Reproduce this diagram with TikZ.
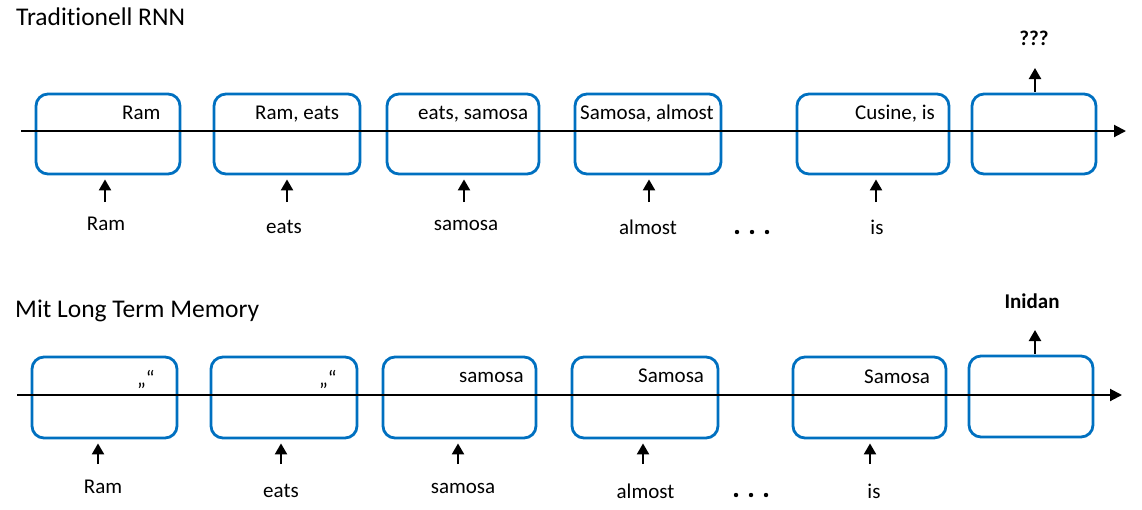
\documentclass[tikz,border=0pt]{standalone}
\usepackage{fontspec}
\setmainfont{Carlito}[Ligatures=NoCommon]
\usetikzlibrary{arrows.meta}
\definecolor{boxblue}{HTML}{0070C0}
\begin{document}
\begin{tikzpicture}[x=1pt,y=-1pt,
  cell/.style={draw=boxblue, line width=2.8pt, rounded corners=12pt, inner sep=0pt, minimum height=80pt},
  txt/.style={font=\fontsize{21}{25}\selectfont, inner sep=0pt, anchor=base},
  intxt/.style={txt, anchor=base west},
  ttl/.style={font=\fontsize{25.5}{30}\selectfont, inner sep=0pt, anchor=base west},
  outtxt/.style={txt, font=\fontsize{21}{25}\selectfont\bfseries},
  axis/.style={line width=2pt, -{Triangle[width=12pt,length=12pt]}},
  inarr/.style={line width=2.2pt, -{Triangle[width=12pt,length=11pt]}},
  dot/.style={fill=black}
]
\useasboundingbox (0,0) rectangle (1142,509);

% ---------- Titles ----------
\node[ttl] (title1) at (16,25) {Traditionell RNN};
\node[ttl] (title2) at (15,317) {Mit Long Term Memory};

% ---------- Top row ----------
\coordinate (ta) at (21,131);
\coordinate (tb) at (1126,131);
\node[cell, minimum width=144pt] (t1) at (108,134) {};
\node[cell, minimum width=146pt] (t2) at (287,134) {};
\node[cell, minimum width=152pt] (t3) at (463,134) {};
\node[cell, minimum width=146pt] (t4) at (648,134) {};
\node[cell, minimum width=152pt] (t5) at (873,134) {};
\node[cell, minimum width=124pt] (t6) at (1034,134) {};
\draw[axis] (ta) -- (tb);

\node[intxt] (t1l) at (122,119) {Ram};
\node[intxt] (t2l) at (255,119) {Ram, eats};
\node[intxt] (t3l) at (418,119) {eats, samosa};
\node[intxt] (t4l) at (580,119) {Samosa, almost};
\node[intxt] (t5l) at (855,119) {Cusine, is};

\coordinate (ti1) at (105,202);
\coordinate (ti2) at (287,202);
\coordinate (ti3) at (464,202);
\coordinate (ti4) at (649,202);
\coordinate (ti5) at (876,202);
\coordinate (tout) at (1035,68);
\draw[inarr, shorten >=4pt] (ti1) -- (ti1 |- t1.south);
\draw[inarr, shorten >=4pt] (ti2) -- (ti2 |- t2.south);
\draw[inarr, shorten >=4pt] (ti3) -- (ti3 |- t3.south);
\draw[inarr, shorten >=4pt] (ti4) -- (ti4 |- t4.south);
\draw[inarr, shorten >=4pt] (ti5) -- (ti5 |- t5.south);
\draw[inarr, shorten <=1pt] (tout |- t6.north) -- (tout);

\node[txt] (tw1) at (106,230) {Ram};
\node[txt] (tw2) at (284,233) {eats};
\node[txt] (tw3) at (466,230) {samosa};
\node[txt] (tw4) at (648,234) {almost};
\node[txt] (tw5) at (877,234) {is};
\node[outtxt] (tq) at (1034,45) {???};

\fill[dot] (737,232) circle (2.2pt);
\fill[dot] (752,232) circle (2.2pt);
\fill[dot] (767,232) circle (2.2pt);

% ---------- Bottom row ----------
\coordinate (ba) at (17,395);
\coordinate (bb) at (1122,395);
\node[cell, minimum width=145pt, minimum height=81pt] (b1) at (104.5,397.5) {};
\node[cell, minimum width=146pt, minimum height=81pt] (b2) at (284,397.5) {};
\node[cell, minimum width=153pt, minimum height=81pt] (b3) at (459.5,397.5) {};
\node[cell, minimum width=146pt, minimum height=81pt] (b4) at (645,397.5) {};
\node[cell, minimum width=153pt, minimum height=81pt] (b5) at (869.5,397.5) {};
\node[cell, minimum width=124pt, minimum height=81pt] (b6) at (1031,396.5) {};
\draw[axis] (ba) -- (bb);

\node[intxt] (b1l) at (137,385) {„“};
\node[intxt] (b2l) at (319,385) {„“};
\node[intxt] (b3l) at (459,382) {samosa};
\node[intxt] (b4l) at (638,382) {Samosa};
\node[intxt] (b5l) at (864,383) {Samosa};

\coordinate (bi1) at (98,464);
\coordinate (bi2) at (281,464);
\coordinate (bi3) at (458,464);
\coordinate (bi4) at (643,464);
\coordinate (bi5) at (870,464);
\coordinate (bout) at (1035,330);
\draw[inarr, shorten >=4pt] (bi1) -- (bi1 |- b1.south);
\draw[inarr, shorten >=4pt] (bi2) -- (bi2 |- b2.south);
\draw[inarr, shorten >=4pt] (bi3) -- (bi3 |- b3.south);
\draw[inarr, shorten >=4pt] (bi4) -- (bi4 |- b4.south);
\draw[inarr, shorten >=4pt] (bi5) -- (bi5 |- b5.south);
\draw[inarr, shorten <=1pt] (bout |- b6.north) -- (bout);

\node[txt] (bw1) at (103,493) {Ram};
\node[txt] (bw2) at (281,497) {eats};
\node[txt] (bw3) at (463,493) {samosa};
\node[txt] (bw4) at (645.5,498) {almost};
\node[txt] (bw5) at (874,498) {is};
\node[outtxt] (bq) at (1032,308) {Inidan};

\fill[dot] (736,495) circle (2.2pt);
\fill[dot] (751,495) circle (2.2pt);
\fill[dot] (766,495) circle (2.2pt);
\end{tikzpicture}
\end{document}
